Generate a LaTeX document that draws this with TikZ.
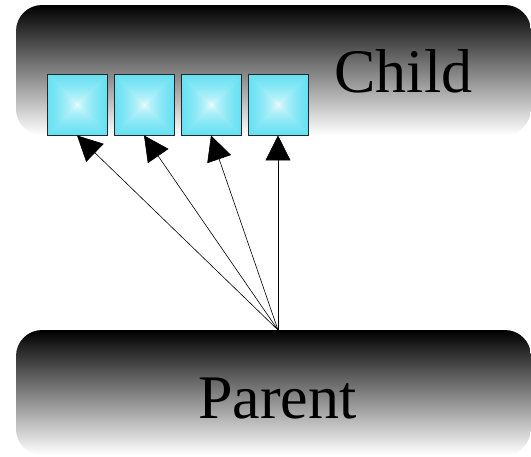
\documentclass[tikz,border=0pt]{standalone}
\usepackage{fontspec}
\setmainfont{Liberation Serif}
\usetikzlibrary{arrows.meta}

% square (pyramid) shading: white centre fading to cyan at the edges
\pgfdeclarefunctionalshading{squarecyan}{\pgfpoint{-50bp}{-50bp}}{\pgfpoint{50bp}{50bp}}{}{
  abs exch abs 2 copy lt {exch} if pop 50 div sqrt
  dup 0.86 mul 1 exch sub
  exch dup 0.17 mul 1 exch sub
  exch 0.07 mul 1 exch sub
}

\tikzset{
  layer/.style={rectangle, rounded corners=26pt, top color=black, bottom color=white,
    minimum width=515pt, inner sep=0pt},
  cell/.style={rectangle, draw=black!85, line width=0.9pt, shading=squarecyan,
    minimum width=60pt, minimum height=61pt, inner sep=0pt},
  big/.style={font=\fontsize{62}{62}\selectfont, text=black, anchor=base, inner sep=0pt},
  link/.style={draw=black, line width=0.6pt,
    -{Triangle[length=25pt, width=25pt]}}
}

\begin{document}
\begin{tikzpicture}[x=1pt, y=-1pt]
  \useasboundingbox (0,0) rectangle (531,456);
  \fill[white] (0,0) rectangle (531,456);

  % the two layers
  \node[layer, minimum height=130pt] (child) at (273.5,70) {};
  \node[layer, minimum height=125pt] (parent) at (273.5,392.5) {};
  \node[big] (childtext) at (403.5,92) {Child};
  \node[big] (parenttext) at (277.5,418) {Parent};

  % cells of the child layer
  \node[cell] (s1) at (77,104.5) {};
  \node[cell] (s2) at (144,104.5) {};
  \node[cell] (s3) at (211,104.5) {};
  \node[cell] (s4) at (278,104.5) {};

  % links from the parent to every cell
  \coordinate (src) at (278,330);
  \foreach \s in {s1,s2,s3,s4}
    \draw[link] (src) -- (\s.south);
\end{tikzpicture}
\end{document}
